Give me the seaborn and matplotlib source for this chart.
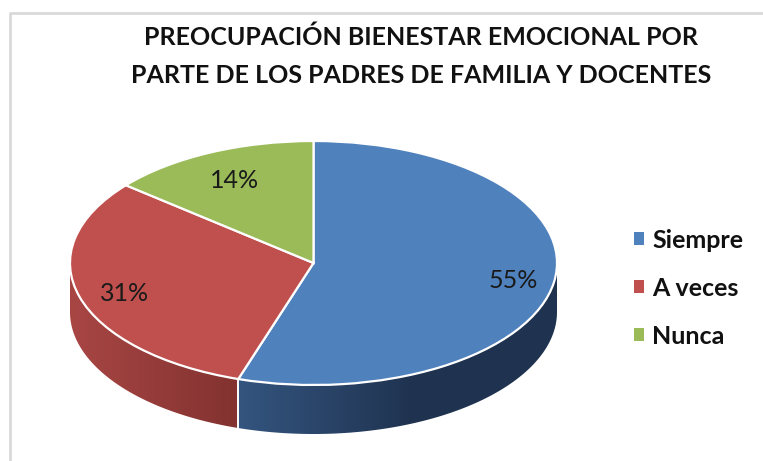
import numpy as np
import matplotlib
matplotlib.use('Agg')
import matplotlib.pyplot as plt
from matplotlib.colors import LinearSegmentedColormap
from matplotlib.patches import Patch, Polygon
import seaborn as sns

title = 'PREOCUPACIÓN BIENESTAR EMOCIONAL POR\nPARTE DE LOS PADRES DE FAMILIA Y DOCENTES'
categories = ['Siempre', 'A veces', 'Nunca']
values = [55, 31, 14]
colors = ['#4f81bd', '#c0504d', '#9bbb59']

sns.set_theme(style='white')
plt.rcParams['font.family'] = ['Lato', 'DejaVu Sans']

W, H = 763, 461
cx, cy, rx, ry = 313.5, 263, 243.5, 122   # ellipse of the pie top, in pixels
depth = 49 / ry

fig = plt.figure(figsize=(W / 100, H / 100), dpi=100)
ax = fig.add_axes([0, 0, 1, 1])

wedges, texts, autotexts = ax.pie(values, colors=colors, startangle=90, counterclock=False,
                                  autopct='%.0f%%', pctdistance=0.83,
                                  wedgeprops={'edgecolor': 'white', 'linewidth': 1.6, 'zorder': 3},
                                  textprops={'fontsize': 18, 'color': '#1a1a1a'})
# nudge the labels onto their spots in the reference
nudges = [(0, -0.015), (0.02, -0.015), (0.03, -0.075)]
for t, (dx, dy) in zip(autotexts, nudges):
    t.set_zorder(5)
    x0, y0 = t.get_position()
    t.set_position((x0 + dx, y0 + dy))

ax.set_aspect('auto')
xlim = (-cx / rx, (W - cx) / rx)
ylim = ((cy - H) / ry, cy / ry)
ax.axis('off')

# side wall, only the front half of the pie shows
wall_shades = [('#34557f', '#1f3350', 0.55), ('#a84644', '#823230', 1.0)]
bounds = 90 - np.cumsum([0] + values) * 3.6
for i, (light, dark, reach) in enumerate(wall_shades):
    a_start = min(bounds[i], 0)
    a_end = max(bounds[i + 1], -180)
    angles = np.radians(np.linspace(a_start, a_end, 200))
    xs = np.cos(angles)
    ys = np.sin(angles)
    outline = np.column_stack([np.r_[xs, xs[::-1]], np.r_[ys, ys[::-1] - depth]])
    clip = Polygon(outline, closed=True, transform=ax.transData)
    cmap = LinearSegmentedColormap.from_list('wall', [(0, light), (reach, dark), (1, dark)])
    img = ax.imshow(np.linspace(0, 1, 256)[None, :], cmap=cmap, aspect='auto', zorder=1,
                    extent=(xs.min(), xs.max(), ys.min() - depth, ys.max()))
    img.set_clip_path(clip)

ax.set_xlim(xlim)
ax.set_ylim(ylim)

# white seam between the slices on the wall
seam = np.radians(bounds[1])
ax.plot([np.cos(seam)] * 2, [np.sin(seam), np.sin(seam) - depth], color='white', lw=1.4, zorder=2)

# chart area border (left and top only are visible)
ax.plot([0.0135, 0.0135, 1], [0, 0.972, 0.972], transform=ax.transAxes,
        color='#d9d9d9', lw=2, clip_on=False, zorder=0)

fig.text(421 / W, 1 - 56 / H, title, ha='center', va='center', fontsize=18, fontweight='bold',
         color='#111111', linespacing=1.77)

handles = [Patch(facecolor=c, edgecolor='none') for c in colors]
ax.legend(handles, categories, loc='center left', bbox_to_anchor=(634 / W, 1 - 288 / H),
          frameon=False, prop={'weight': 'bold', 'size': 18}, labelcolor='#111111',
          handlelength=0.4, handleheight=0.4, handletextpad=0.33, labelspacing=1.0,
          borderpad=0, borderaxespad=0)

fig.savefig('out.png', dpi=100, facecolor='white')
